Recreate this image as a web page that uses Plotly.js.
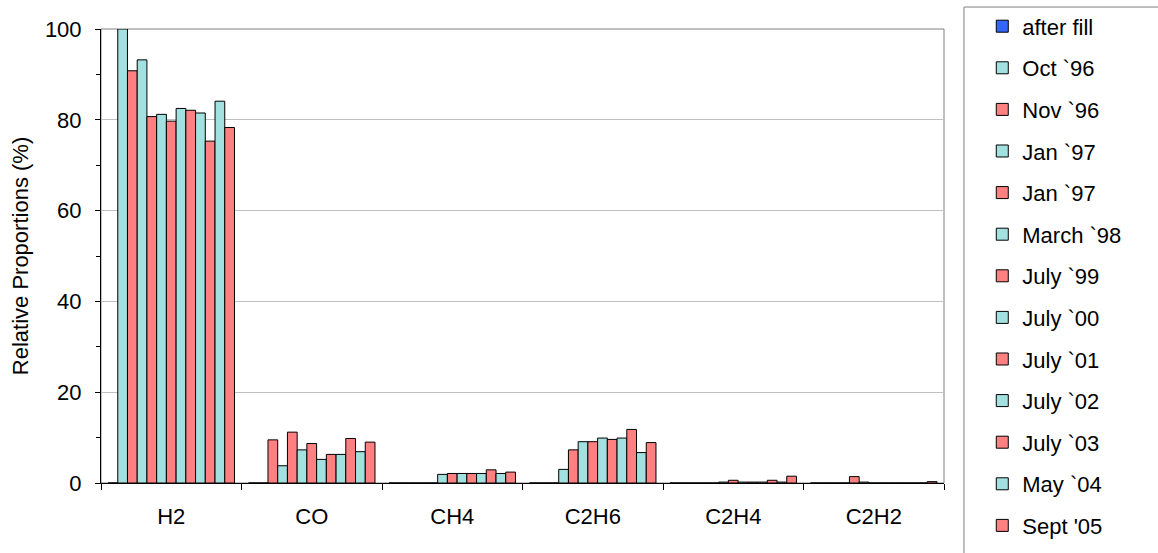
<!DOCTYPE html>
<html>
<head>
<meta charset="utf-8">
<script src="https://cdn.plot.ly/plotly-3.0.1.min.js"></script>
<style>html,body{margin:0;padding:0;background:#fff;}#chart{width:1158px;height:553px;}</style>
</head>
<body>
<div id="chart"></div>
<script>
const categories = ['H2', 'CO', 'CH4', 'C2H6', 'C2H4', 'C2H2'];
const seriesNames = ['after fill', 'Oct `96', 'Nov `96', 'Jan `97', 'Jan `97', 'March `98', 'July `99', 'July `00', 'July `01', 'July `02', 'July `03', 'May `04', "Sept '05"];
const afterFill = [0, 0, 0, 0, 0, 0];
const oct96 = [100, 0, 0, 0, 0, 0];
const nov96 = [90.8, 9.5, 0, 0, 0, 0];
const jan97a = [93.2, 3.8, 0, 3.0, 0, 0];
const jan97b = [80.7, 11.2, 0, 7.3, 0, 1.4];
const mar98 = [81.2, 7.3, 1.9, 9.1, 0.2, 0.2];
const jul99 = [79.7, 8.7, 2.1, 9.1, 0.6, 0];
const jul00 = [82.5, 5.2, 2.1, 9.9, 0.2, 0];
const jul01 = [82.1, 6.3, 2.1, 9.6, 0.2, 0];
const jul02 = [81.5, 6.3, 2.1, 9.9, 0.2, 0];
const jul03 = [75.3, 9.8, 2.9, 11.8, 0.6, 0];
const may04 = [84.1, 6.9, 2.1, 6.7, 0.2, 0];
const sep05 = [78.3, 9.0, 2.4, 8.9, 1.5, 0.3];
const allSeries = [afterFill, oct96, nov96, jan97a, jan97b, mar98, jul99, jul00, jul01, jul02, jul03, may04, sep05];

const BLUE = '#3366ff', CYAN = '#a3e0e0', RED = '#ff8080';
const colors = [BLUE, CYAN, RED, CYAN, RED, CYAN, RED, CYAN, RED, CYAN, RED, CYAN, RED];

const traces = allSeries.map((vals, i) => ({
  type: 'bar',
  name: seriesNames[i],
  x: categories,
  y: vals,
  legendgroup: 'g' + i,
  marker: {color: colors[i], line: {color: '#000000', width: 1}},
  hoverinfo: 'x+y+name'
}));

const font = {family: 'Liberation Sans, Arial, sans-serif', size: 22, color: '#000'};

const layout = {
  width: 1158, height: 553,
  margin: {l: 101, r: 214, t: 29, b: 70, autoexpand: false},
  paper_bgcolor: '#fff', plot_bgcolor: '#fff',
  font: font,
  barmode: 'group',
  bargap: 0.1,
  bargroupgap: 0,
  showlegend: true,
  legend: {
    x: 1.0454, xanchor: 'left', y: 1.052, yanchor: 'top',
    traceorder: 'grouped', tracegroupgap: 10,
    maxheight: 600,
    font: {family: 'Liberation Sans, Arial, sans-serif', size: 22, color: '#000'},
    bgcolor: 'rgba(0,0,0,0)', borderwidth: 0
  },
  xaxis: {
    type: 'category',
    showline: true, linecolor: '#000', linewidth: 1,
    ticks: 'outside', tickson: 'boundaries', ticklen: 6, tickcolor: '#000',
    ticklabelstandoff: 14,
    showgrid: false, zeroline: false,
    tickfont: font
  },
  yaxis: {
    range: [0, 100], dtick: 20, tick0: 0,
    showline: true, linecolor: '#000', linewidth: 1,
    ticks: 'outside', ticklen: 5, tickcolor: '#000',
    ticklabelstandoff: 9,
    minor: {dtick: 10, ticks: 'outside', ticklen: 4, tickcolor: '#000', showgrid: false},
    showgrid: true, gridcolor: '#c0c0c0', gridwidth: 1,
    zeroline: false,
    tickfont: font,
    title: {text: 'Relative Proportions (%)', font: font, standoff: 10}
  },
  shapes: [
    {type: 'rect', xref: 'paper', yref: 'paper', x0: 0, x1: 1, y0: 0, y1: 1,
     line: {color: '#808080', width: 1}, layer: 'below'},
    {type: 'rect', xref: 'paper', yref: 'paper', x0: 1.0237, x1: 1.3, y0: -0.2, y1: 1.0484,
     line: {color: '#808080', width: 1}, layer: 'below'}
  ]
};

Plotly.newPlot('chart', traces, layout, {displayModeBar: false, staticPlot: true});
</script>
</body>
</html>
